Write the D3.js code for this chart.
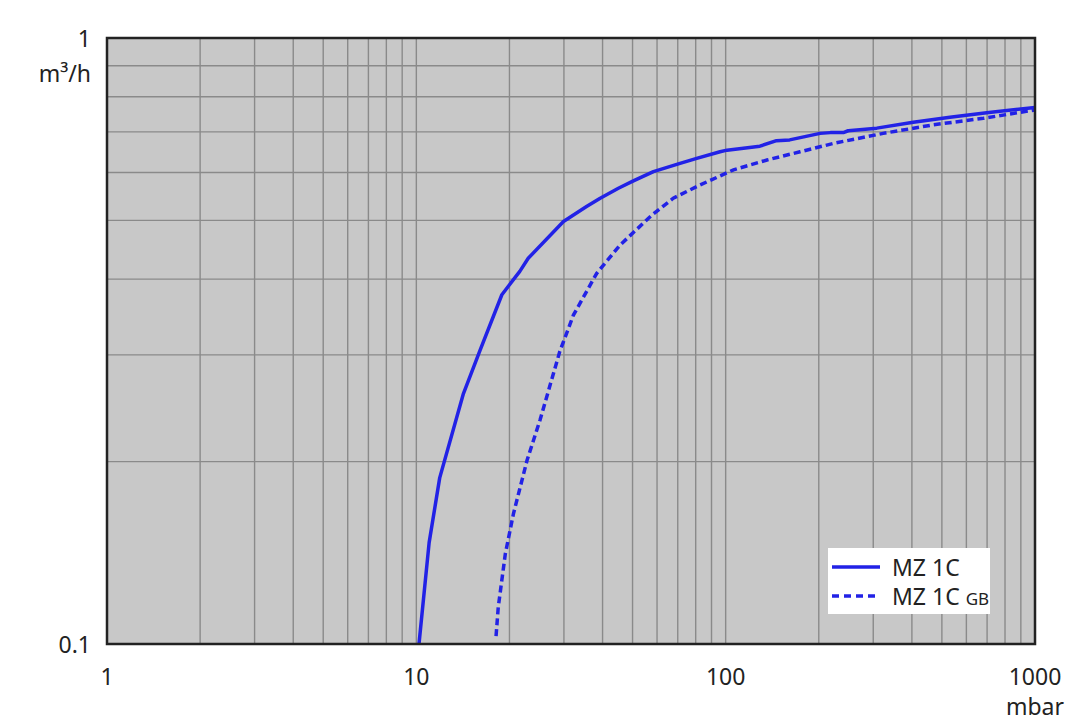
<!DOCTYPE html>
<html lang="en">
<head>
<meta charset="UTF-8">
<title>MZ 1C pumping speed</title>
<script src="https://cdn.jsdelivr.net/npm/d3@7"></script>
<style>
  body { margin: 0; background: #fff; }
  text { font-family: "Noto Sans", "Open Sans", sans-serif; fill: #222; }
</style>
</head>
<body>
<script>
    // pressure in mbar, pumping speed in m³/h
    const mz1cPressure = [10.2, 11.0, 11.9, 14.2, 16.1, 18.9, 21.6, 23.0, 29.9, 35.5, 39.3, 45.0, 50.3, 58.4, 71.2, 80.6, 95.9, 101, 129, 146, 161, 202, 218, 240, 249, 308, 404, 531, 698, 1000];
    const mz1cSpeed    = [0.100, 0.147, 0.188, 0.259, 0.306, 0.377, 0.412, 0.433, 0.498, 0.527, 0.544, 0.565, 0.581, 0.602, 0.621, 0.633, 0.649, 0.653, 0.663, 0.677, 0.679, 0.696, 0.698, 0.698, 0.703, 0.710, 0.726, 0.740, 0.753, 0.768];

    const mz1cGbPressure = [18.1, 18.4, 19.4, 20.6, 22.8, 25.1, 29.1, 32.2, 38.3, 45.5, 57.7, 67.7, 82.6, 106, 136, 174, 223, 323, 469, 681, 1000];
    const mz1cGbSpeed    = [0.103, 0.115, 0.141, 0.164, 0.201, 0.234, 0.304, 0.349, 0.409, 0.455, 0.510, 0.544, 0.572, 0.606, 0.629, 0.649, 0.670, 0.696, 0.719, 0.737, 0.761];

    const xTickLabels = [1, 10, 100, 1000];
    const yTickLabels = [0.1, 1];

    const width = 1080, height = 721;
    const m = { left: 107, right: 45, top: 38, bottom: 77 };
    const blue = "#2222e6";

    const svg = d3.select("body").append("svg")
        .attr("width", width)
        .attr("height", height);

    const x = d3.scaleLog().domain([1, 1000]).range([m.left, width - m.right]);
    const y = d3.scaleLog().domain([0.1, 1]).range([height - m.bottom, m.top]);

    // plot background
    svg.append("rect")
        .attr("x", x(1)).attr("y", y(1))
        .attr("width", x(1000) - x(1)).attr("height", y(0.1) - y(1))
        .attr("fill", "#c8c8c8");

    // grid
    const xGrid = x.ticks().filter(d => d > 1 && d < 1000);
    const yGrid = y.ticks().filter(d => d > 0.1 && d < 1);
    svg.append("g").selectAll("line").data(xGrid).join("line")
        .attr("x1", d => x(d)).attr("x2", d => x(d))
        .attr("y1", y(1)).attr("y2", y(0.1))
        .attr("stroke", "#8a8a8a").attr("stroke-width", 1.4);
    svg.append("g").selectAll("line").data(yGrid).join("line")
        .attr("x1", x(1)).attr("x2", x(1000))
        .attr("y1", d => y(d)).attr("y2", d => y(d))
        .attr("stroke", "#8a8a8a").attr("stroke-width", 1.4);

    svg.append("clipPath").attr("id", "plot")
        .append("rect")
        .attr("x", x(1)).attr("y", y(1))
        .attr("width", x(1000) - x(1)).attr("height", y(0.1) - y(1));

    const line = d3.line()
        .x(d => x(d[0]))
        .y(d => y(d[1]));

    const solid = d3.zip(mz1cPressure, mz1cSpeed);
    const dashed = d3.zip(mz1cGbPressure, mz1cGbSpeed);

    const curves = svg.append("g").attr("clip-path", "url(#plot)");
    curves.append("path").datum(dashed)
        .attr("d", line)
        .attr("fill", "none").attr("stroke", blue)
        .attr("stroke-width", 3.5).attr("stroke-dasharray", "7,4");
    curves.append("path").datum(solid)
        .attr("d", line)
        .attr("fill", "none").attr("stroke", blue)
        .attr("stroke-width", 3.5).attr("stroke-linejoin", "round");

    // frame
    svg.append("rect")
        .attr("x", x(1)).attr("y", y(1))
        .attr("width", x(1000) - x(1)).attr("height", y(0.1) - y(1))
        .attr("fill", "none").attr("stroke", "#222").attr("stroke-width", 2.5);

    // axis labels
    svg.append("g").selectAll("text").data(xTickLabels).join("text")
        .attr("x", d => x(d)).attr("y", 685)
        .attr("text-anchor", "middle")
        .attr("font-size", 23)
        .text(d => d);
    svg.append("text")
        .attr("x", x(1000)).attr("y", 715)
        .attr("text-anchor", "middle").attr("font-size", 23)
        .text("mbar");

    svg.append("g").selectAll("text").data(yTickLabels).join("text")
        .attr("x", 91).attr("y", d => y(d) + 9)
        .attr("text-anchor", "end")
        .attr("font-size", 23)
        .text(d => d);
    svg.append("text")
        .attr("x", 91).attr("y", 82)
        .attr("text-anchor", "end").attr("font-size", 23)
        .text("m³/h");

    // legend
    const lg = svg.append("g").attr("transform", "translate(828,548)");
    lg.append("rect").attr("width", 162).attr("height", 66).attr("fill", "#fff");
    lg.append("line").attr("x1", 4).attr("x2", 52).attr("y1", 19).attr("y2", 19)
        .attr("stroke", blue).attr("stroke-width", 3.5);
    lg.append("line").attr("x1", 4).attr("x2", 52).attr("y1", 48).attr("y2", 48)
        .attr("stroke", blue).attr("stroke-width", 3.5).attr("stroke-dasharray", "7,5");
    lg.append("text").attr("x", 64).attr("y", 28).attr("font-size", 23).text("MZ 1C");
    const t2 = lg.append("text").attr("x", 64).attr("y", 57).attr("font-size", 23);
    t2.append("tspan").text("MZ 1C ");
    t2.append("tspan").attr("font-size", 17).text("GB");
</script>
</body>
</html>
